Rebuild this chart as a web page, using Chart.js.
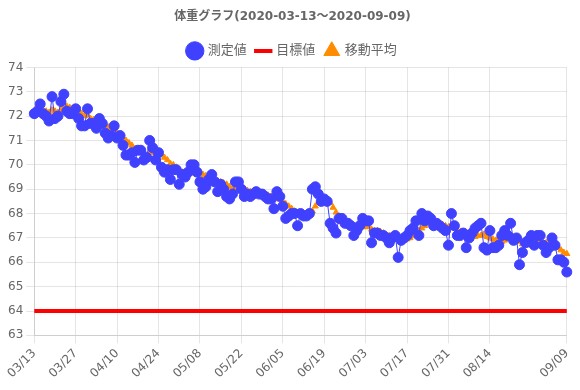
<!DOCTYPE html>
<html><head><meta charset="utf-8">
<script src="https://cdn.jsdelivr.net/npm/chart.js@4/dist/chart.umd.min.js"></script>
<style>html,body{margin:0;padding:0;background:#fff}#wrap{width:580px;height:390px}</style>
</head><body><div id="wrap"><canvas id="c"></canvas></div>
<script>
const startDate = "2020-03-13";
const dayCount = 181;
const categories = [];
(function(){const d0=new Date(startDate+"T00:00:00Z");for(let i=0;i<dayCount;i++){const d=new Date(d0.getTime()+i*86400000);categories.push(String(d.getUTCMonth()+1).padStart(2,"0")+"/"+String(d.getUTCDate()).padStart(2,"0"));}})();
const tickLabels = ["03/13","03/27","04/10","04/24","05/08","05/22","06/05","06/19","07/03","07/17","07/31","08/14","09/09"];
const measured = [
72.1,72.2,72.5,72.1,72.0,71.8,72.8,71.9,72.0,72.6,
72.9,72.2,72.1,72.1,72.3,71.9,71.6,71.6,72.3,71.7,
71.7,71.5,71.9,71.7,71.3,71.1,71.2,71.6,71.1,71.2,
70.8,70.4,70.4,70.5,70.1,70.6,70.6,70.2,70.3,71.0,
70.7,70.2,70.5,69.9,69.7,69.8,69.4,69.8,69.8,69.2,
69.6,69.5,69.7,70.0,70.0,69.7,69.3,69.0,69.1,69.4,
69.6,69.3,68.9,69.2,69.0,68.7,68.6,68.8,69.3,69.3,
69.0,68.7,68.8,68.7,68.8,68.9,68.8,68.8,68.7,68.6,
68.6,68.2,68.9,68.7,68.3,67.8,67.9,68.0,68.0,67.5,
68.0,67.9,67.9,68.0,69.0,69.1,68.8,68.5,68.6,68.5,
67.6,67.4,67.2,67.8,67.8,67.6,67.6,67.5,67.1,67.3,
67.5,67.8,67.7,67.7,66.8,67.2,67.2,67.1,67.1,67.0,
66.8,67.0,67.1,66.2,66.9,67.0,67.1,67.3,67.4,67.7,
67.1,68.0,67.7,67.9,67.8,67.5,67.6,67.5,67.4,67.3,
66.7,68.0,67.5,67.1,67.1,67.2,66.6,67.0,67.2,67.4,
67.5,67.6,66.6,66.5,67.3,66.6,66.6,66.7,67.1,67.3,
67.1,67.6,66.9,67.0,65.9,66.4,66.8,66.9,67.1,66.7,
67.1,67.1,66.7,66.4,66.6,67.0,66.7,66.1,66.1,66.0,
65.6];
const movingAvg = [
72.1,72.15,72.25,72.25,72.2,72.15,72.25,72.2,72.15,72.25,
72.35,72.4,72.35,72.3,72.2,72.2,72.1,72.0,72.05,71.9,
71.85,71.8,71.8,71.7,71.6,71.55,71.5,71.45,71.3,71.25,
71.1,71.0,70.9,70.8,70.65,70.6,70.55,70.45,70.4,70.5,
70.5,70.5,70.5,70.4,70.3,70.2,70.05,70.0,69.9,69.8,
69.7,69.65,69.6,69.65,69.7,69.75,69.7,69.6,69.55,69.5,
69.45,69.4,69.35,69.3,69.25,69.2,69.1,69.0,69.0,69.0,
69.05,69.0,68.95,68.9,68.85,68.85,68.8,68.8,68.8,68.75,
68.7,68.6,68.6,68.6,68.5,68.4,68.3,68.2,68.1,68.0,
67.95,67.9,67.9,67.95,68.1,68.3,68.45,68.55,68.6,68.6,
68.45,68.25,68.05,67.9,67.75,67.65,67.55,67.5,67.45,67.4,
67.4,67.45,67.5,67.45,67.35,67.3,67.3,67.25,67.2,67.1,
67.1,67.05,67.0,66.95,66.9,66.9,66.95,67.0,67.1,67.2,
67.3,67.4,67.5,67.6,67.65,67.65,67.6,67.6,67.55,67.5,
67.45,67.45,67.4,67.3,67.25,67.2,67.1,67.1,67.05,67.05,
67.1,67.1,67.15,67.05,67.0,66.95,66.9,66.9,66.85,66.9,
67.0,67.05,67.05,67.0,66.85,66.75,66.7,66.7,66.75,66.8,
66.9,66.85,66.8,66.8,66.75,66.75,66.7,66.6,66.5,66.4,
66.35];
const targetWeight = 64;
const targetSeries = categories.map(() => targetWeight);
const yTicks = {min: 63, max: 74, step: 1};

const FONT = "'DejaVu Sans', 'Noto Sans CJK JP', sans-serif";
Chart.defaults.font.family = FONT;
Chart.defaults.font.size = 12;
Chart.defaults.color = '#666';

new Chart(document.getElementById('c'), {
  type: 'line',
  data: {
    labels: categories,
    datasets: [
      {label: '測定値', data: measured, borderColor: 'rgb(64,64,255)', backgroundColor: 'rgb(64,64,255)',
       pointBackgroundColor: 'rgb(64,64,255)', pointBorderColor: 'rgb(64,64,255)', borderWidth: 1,
       pointRadius: 5, pointStyle: 'circle', fill: false, tension: 0},
      {label: '目標値', data: targetSeries, borderColor: 'rgb(255,0,0)', backgroundColor: 'rgb(255,0,0)',
       borderWidth: 4, pointRadius: 0, pointStyle: 'line', fill: false},
      {label: '移動平均', data: movingAvg, borderColor: 'rgb(255,140,0)', backgroundColor: 'rgb(255,140,0)',
       pointBackgroundColor: 'rgb(255,140,0)', pointBorderColor: 'rgb(255,140,0)', showLine: false,
       pointRadius: 3.5, pointStyle: 'triangle', fill: false}
    ]
  },
  options: {
    responsive: true, maintainAspectRatio: false, animation: false,
    layout: {padding: {left: 5, right: 0, top: 0, bottom: 6}},
    plugins: {
      title: {display: true, text: '体重グラフ(2020-03-13～2020-09-09)', color: '#666',
              font: {size: 12, weight: 'bold'}, padding: {top: 10, bottom: 10}},
      legend: {labels: {usePointStyle: true, color: '#666', font: {size: 13}, padding: 10}},
      tooltip: {enabled: false}
    },
    scales: {
      x: {
        grid: {color: 'rgba(0,0,0,0.1)', drawTicks: true},
        ticks: {autoSkip: false, maxRotation: 45, minRotation: 45, color: '#666',
          callback: function(v, i){ const l = categories[i]; return tickLabels.includes(l) ? l : null; }}
      },
      y: {min: yTicks.min, max: yTicks.max,
        grid: {color: 'rgba(0,0,0,0.1)'},
        ticks: {stepSize: yTicks.step, color: '#666'}}
    }
  }
});
</script></body></html>
